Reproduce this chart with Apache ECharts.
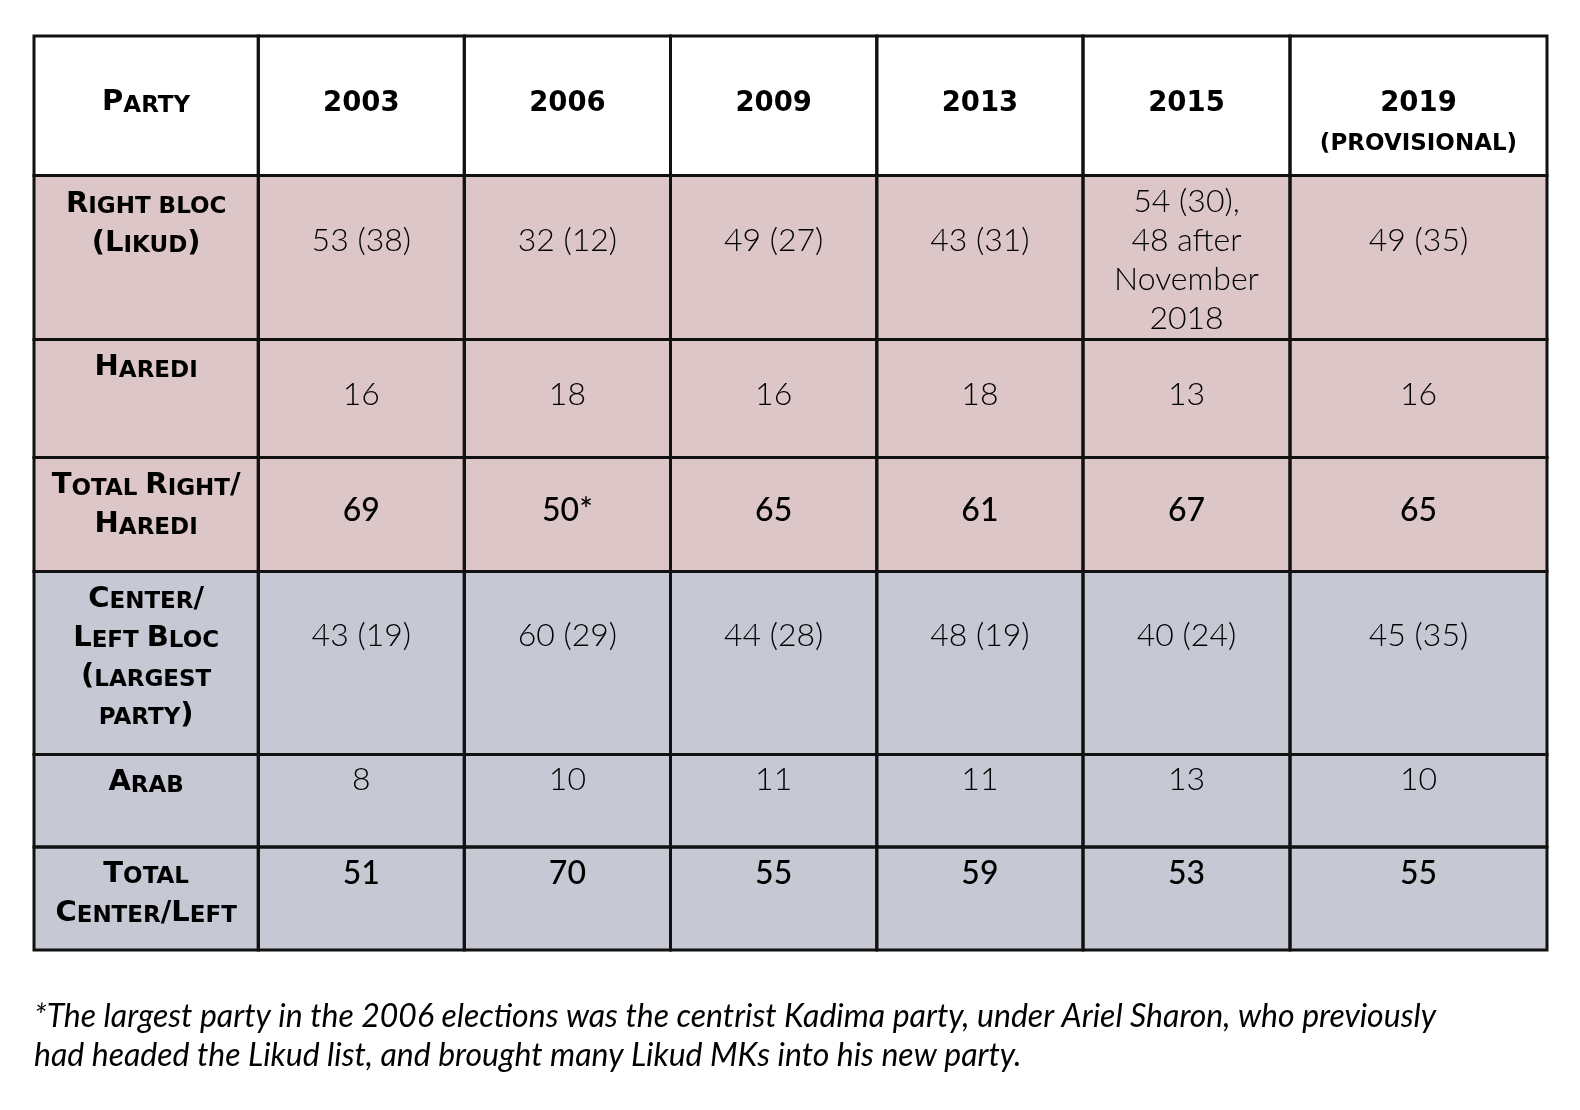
<!DOCTYPE html>
<html>
<head>
<meta charset="utf-8">
<script src="https://cdn.jsdelivr.net/npm/echarts@6/dist/echarts.min.js"></script>
<style>
  html, body { margin: 0; padding: 0; width: 100%; height: 100%; overflow: hidden; background: #fff; }
  #chart { width: 100vw; height: 100vh; }
</style>
</head>
<body>
<div id="chart"></div>
<script>
// Table contents
const firstHeader = "Party";
const years = ["2003", "2006", "2009", "2013", "2015", "2019"];
const yearNotes = ["", "", "", "", "", "(PROVISIONAL)"];
const rowLabels = [
  "Right bloc\n(Likud)",
  "Haredi",
  "Total Right/\nHaredi",
  "Center/\nLeft Bloc\n(largest\nparty)",
  "Arab",
  "Total\nCenter/Left"
];
const rightBloc = ["53 (38)", "32 (12)", "49 (27)", "43 (31)", "54 (30),\n48 after\nNovember\n2018", "49 (35)"];
const haredi = ["16", "18", "16", "18", "13", "16"];
const totalRightHaredi = ["69", "50*", "65", "61", "67", "65"];
const centerLeft = ["43 (19)", "60 (29)", "44 (28)", "48 (19)", "40 (24)", "45 (35)"];
const arab = ["8", "10", "11", "11", "13", "10"];
const totalCenterLeft = ["51", "70", "55", "59", "53", "55"];
const footnote = "*The largest party in the 2006 elections was the centrist Kadima party, under Ariel Sharon, who previously\nhad headed the Likud list, and brought many Likud MKs into his new party.";

const rowValues = [rightBloc, haredi, totalRightHaredi, centerLeft, arab, totalCenterLeft];
const totalRows = [2, 5]; // index into rowValues

// Layout (relative widths / heights, text offsets in px)
const colWidths = [224.3, 206, 206.2, 206.3, 206.2, 207, 257];
const rowHeights = [139.5, 164, 118, 114, 183, 92.5, 103];
const labelFirstLine = [62, 24, 23.5, 23.5, 23, 23.5, 22.5];
const valueFirstLine = [68, 65.5, 55.5, 53, 64.5, 25.5, 27];
const rowFills = ["#ffffff", "#dcc6c7", "#dcc6c7", "#dcc6c7", "#c6c8d4", "#c6c8d4", "#c6c8d4"];

const cum = (arr) => arr.reduce((acc, v) => { acc.push(acc[acc.length - 1] + v); return acc; }, [0]);
const colEdges = cum(colWidths);
const rowEdges = cum(rowHeights);

const LABEL_LH = 38.7;
const VALUE_LH = 39;
const HEAD_FONT = "'DejaVu Sans', Inter, sans-serif";

const rich = {
  big: { fontFamily: HEAD_FONT, fontWeight: 700, fontSize: 29, lineHeight: LABEL_LH, color: "#000", verticalAlign: "bottom" },
  sm: { fontFamily: HEAD_FONT, fontWeight: 700, fontSize: 23, lineHeight: LABEL_LH, color: "#000", verticalAlign: "bottom" },
  yr: { fontFamily: HEAD_FONT, fontWeight: 700, fontSize: 27.5, lineHeight: 40.5, color: "#000" },
  pv: { fontFamily: HEAD_FONT, fontWeight: 700, fontSize: 23, lineHeight: 40.5, color: "#000" },
  val: { fontFamily: "Lato", fontWeight: 300, fontSize: 32, lineHeight: VALUE_LH, color: "#000" },
  tot: { fontFamily: "Lato", fontWeight: 500, fontSize: 32, lineHeight: VALUE_LH, color: "#000" }
};

// small caps: capitals / punctuation at full size, lower case as small capitals
let smallCaps = (line) => {
  let out = "", cur = null, buf = "";
  for (const ch of line) {
    let kind;
    if (ch === " ") kind = cur || "big";
    else if (ch >= "a" && ch <= "z") kind = "sm";
    else kind = "big";
    if (kind !== cur && buf) { out += "{" + cur + "|" + buf + "}"; buf = ""; }
    cur = kind;
    buf += ch.toUpperCase();
  }
  if (buf) out += "{" + cur + "|" + buf + "}";
  return out;
};

let wrapLines = (text, style) => text.split("\n").map((l) => "{" + style + "|" + l + "}").join("\n");

// build cells
const cells = [];
cells.push({ c: 0, r: 0, text: firstHeader.split("\n").map(smallCaps).join("\n"), off: labelFirstLine[0], lh: LABEL_LH, n: 1 });
years.forEach((y, i) => {
  let t = "{yr|" + y + "}" + (yearNotes[i] ? "\n{pv|" + yearNotes[i] + "}" : "");
  cells.push({ c: i + 1, r: 0, text: t, off: valueFirstLine[0], lh: 40.5, n: 1 });
});
rowLabels.forEach((lab, k) => {
  const r = k + 1;
  cells.push({ c: 0, r: r, text: lab.split("\n").map(smallCaps).join("\n"), off: labelFirstLine[r], lh: LABEL_LH, n: 1 });
  rowValues[k].forEach((v, i) => {
    const n = v.split("\n").length;
    const style = totalRows.includes(k) ? "tot" : "val";
    cells.push({ c: i + 1, r: r, text: wrapLines(v, style), off: valueFirstLine[r], lh: VALUE_LH, n: n });
  });
});

const chart = echarts.init(document.getElementById("chart"), null, { renderer: "canvas" });

let cellRect = (api) => {
  const c = api.value(0), r = api.value(1);
  const p0 = api.coord([colEdges[c], rowEdges[r]]);
  const p1 = api.coord([colEdges[c + 1], rowEdges[r + 1]]);
  return { x: p0[0], y: p0[1], width: p1[0] - p0[0], height: p1[1] - p0[1] };
};

chart.setOption({
  backgroundColor: "#ffffff",
  animation: false,
  title: {
    text: footnote,
    left: 34,
    top: 997,
    padding: 0,
    textStyle: { fontFamily: "Lato", fontStyle: "italic", fontWeight: 400, fontSize: 32, lineHeight: 39, color: "#000" }
  },
  grid: { left: 34, top: 36, right: 33, bottom: 160, outerBoundsMode: "none" },
  xAxis: { type: "value", min: 0, max: colEdges[colEdges.length - 1], show: false },
  yAxis: { type: "value", min: 0, max: rowEdges[rowEdges.length - 1], inverse: true, show: false },
  series: [
    {
      type: "custom",
      data: cells.map((d) => [d.c, d.r]),
      renderItem: (params, api) => {
        const d = cells[params.dataIndex];
        const rc = cellRect(api);
        const first = d.off - Math.floor((d.n - 1) / 2) * d.lh;
        return {
          type: "group",
          children: [
            { type: "rect", shape: rc, style: { fill: rowFills[d.r] } },
            {
              type: "text",
              style: {
                text: d.text,
                rich: rich,
                x: rc.x + rc.width / 2,
                y: rc.y + first - d.lh / 2,
                align: "center",
                verticalAlign: "top"
              }
            }
          ]
        };
      }
    },
    {
      type: "custom",
      z: 5,
      data: cells.map((d) => [d.c, d.r]),
      renderItem: (params, api) => ({
        type: "rect",
        shape: cellRect(api),
        style: { fill: "none", stroke: "#111", lineWidth: 3 }
      })
    }
  ]
});
window.addEventListener("resize", () => chart.resize());
</script>
</body>
</html>
